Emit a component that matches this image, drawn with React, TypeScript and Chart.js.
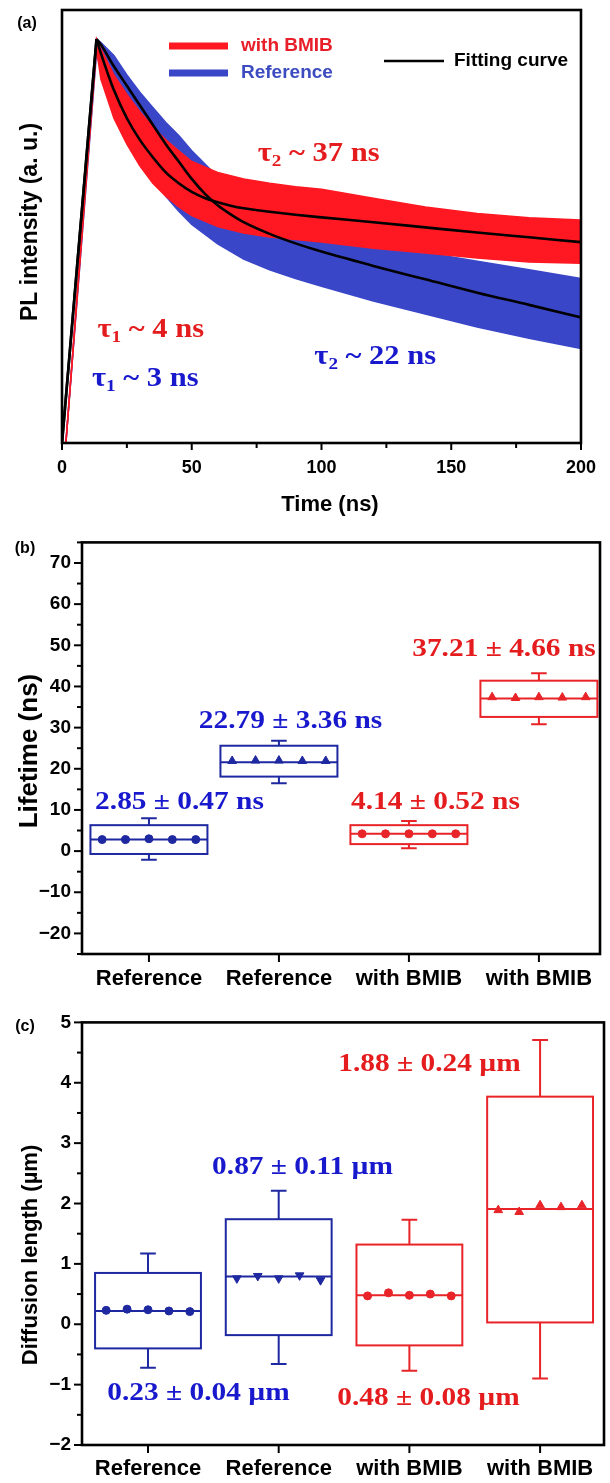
import React, { useEffect, useRef } from 'react';
import { Chart, registerables } from 'chart.js';

Chart.register(...registerables);
Chart.defaults.color = '#000';

const SANS = '"Liberation Sans", Arial, Helvetica, sans-serif';
const SERIF = '"Liberation Serif", "Times New Roman", serif';

// ---------------- Panel (a): PL decay (intensity in % of axis height) ----------------
const decayTimeNs = [0, 1.5, 13.3, 15, 20, 25, 30, 35, 40, 45, 50, 60, 70, 80, 90, 100, 120, 140, 160, 180, 200];
const bmibUpper = [0, 0, 93.3, 91, 85, 80.5, 76.5, 73, 70, 67.5, 65, 62.5, 61, 60, 59.2, 58.6, 56.5, 54.5, 53, 52, 51.5];
const bmibLower = [0, 0, 91, 84, 75, 69, 64, 60, 57, 54.5, 52.5, 50, 48.5, 47.6, 47, 46.4, 45, 43.9, 42.7, 41.8, 41.5];
const refUpper = [0, 0, 93.3, 92.5, 89.5, 85, 81, 77.5, 74, 71, 67.5, 61.5, 57, 53.5, 51, 49, 46, 44, 42, 40, 38];
const refLower = [0, 0, 90, 86, 79, 72, 66, 61, 57, 53.5, 50.5, 46, 42.5, 40, 38, 36.2, 32.8, 29.8, 26.8, 24.2, 21.8];
const fitTimeNs = [0, 13.3, 15, 20, 25, 30, 35, 40, 45, 50, 55, 60, 65, 70, 80, 90, 100, 120, 140, 160, 180, 200];
const bmibFit = [0, 93.3, 90, 81.5, 75, 70, 66, 62.5, 60, 58, 56.6, 55.6, 54.8, 54.2, 53.4, 52.7, 52.1, 51, 49.8, 48.6, 47.5, 46.4];
const refFit = [0, 93.3, 92, 87, 82.5, 78, 73.5, 69, 65, 61, 57.6, 54.9, 52.8, 51.0, 48.3, 46.1, 44.2, 40.9, 37.8, 34.7, 31.9, 29];
const timeTickValues = [0, 50, 100, 150, 200];
const legendNames = ['with BMIB', 'Reference', 'Fitting curve'];
const tauTexts = [
  ['τ', '2', ' ~ 37 ns'],
  ['τ', '1', ' ~ 4 ns'],
  ['τ', '1', ' ~ 3 ns'],
  ['τ', '2', ' ~ 22 ns'],
];

// ---------------- Panels (b) and (c): box charts ----------------
const categories = ['Reference', 'Reference', 'with BMIB', 'with BMIB'];

const lifetimeWhiskerTop = [8.0, 26.8, 7.3, 43.2];
const lifetimeBoxTop = [6.3, 25.6, 6.3, 41.4];
const lifetimeMedian = [2.8, 21.6, 4.2, 37.1];
const lifetimeBoxBottom = [-0.7, 18.1, 1.7, 32.6];
const lifetimeWhiskerBottom = [-2.1, 16.5, 0.7, 30.8];
const lifetimePoints = [
  [2.8, 2.8, 3.0, 2.8, 2.8],
  [21.9, 22.0, 22.0, 21.9, 21.9],
  [4.2, 4.2, 4.2, 4.2, 4.2],
  [37.4, 37.2, 37.4, 37.3, 37.4],
];
const lifetimeLabels = ['2.85 ± 0.47 ns', '22.79 ± 3.36 ns', '4.14 ± 0.52 ns', '37.21 ± 4.66 ns'];
const lifetimeTicks = [-20, -10, 0, 10, 20, 30, 40, 50, 60, 70];

const diffWhiskerTop = [1.17, 2.21, 1.73, 4.71];
const diffBoxTop = [0.85, 1.74, 1.32, 3.77];
const diffMedian = [0.22, 0.79, 0.48, 1.91];
const diffBoxBottom = [-0.4, -0.18, -0.35, 0.03];
const diffWhiskerBottom = [-0.72, -0.66, -0.77, -0.9];
const diffPoints = [
  [0.23, 0.25, 0.24, 0.22, 0.21],
  [0.76, 0.8, 0.76, 0.81, 0.73],
  [0.47, 0.52, 0.48, 0.5, 0.47],
  [1.89, 1.86, 1.97, 1.94, 1.97],
];
const diffLabels = ['0.23 ± 0.04 µm', '0.87 ± 0.11 µm', '0.48 ± 0.08 µm', '1.88 ± 0.24 µm'];
const diffTicks = [-2, -1, 0, 1, 2, 3, 4, 5];

// ---------------- styles ----------------
const RED_BAND = 'rgb(255, 24, 34)';
const BLUE_BAND = 'rgb(58, 70, 200)';
const BLUE_BOX = 'rgb(30, 40, 160)';
const RED_BOX = 'rgb(232, 36, 40)';
const BLUE_TXT = 'rgb(24, 24, 205)';
const RED_TXT = 'rgb(228, 28, 30)';
const TEXT_STRETCH = 1.13;

const toXY = (xs: number[], ys: number[]) => xs.map((x, i) => ({ x, y: ys[i] }));

function drawStretched(ctx: CanvasRenderingContext2D, parts: { t: string; sub?: boolean }[], cx: number, cy: number, size: number, color: string) {
  ctx.save();
  ctx.fillStyle = color;
  ctx.textBaseline = 'alphabetic';
  ctx.textAlign = 'left';
  const widths = parts.map((p) => {
    ctx.font = `bold ${p.sub ? Math.round(size * 0.62) : size}px ${SERIF}`;
    return ctx.measureText(p.t).width;
  });
  const total = widths.reduce((a, b) => a + b, 0);
  ctx.translate(cx, cy + size * 0.33);
  ctx.scale(TEXT_STRETCH, 1);
  let x = -total / 2;
  parts.forEach((p, i) => {
    ctx.font = `bold ${p.sub ? Math.round(size * 0.62) : size}px ${SERIF}`;
    ctx.fillText(p.t, x, p.sub ? size * 0.2 : 0);
    x += widths[i];
  });
  ctx.restore();
}

function drawText(ctx: CanvasRenderingContext2D, text: string, x: number, y: number, size: number, color = '#000', rotate = false, align: CanvasTextAlign = 'center') {
  ctx.save();
  ctx.font = `bold ${size}px ${SANS}`;
  ctx.fillStyle = color;
  ctx.textAlign = align;
  ctx.textBaseline = 'middle';
  ctx.translate(x, y);
  if (rotate) ctx.rotate(-Math.PI / 2);
  ctx.fillText(text, 0, 0);
  ctx.restore();
}

function drawFrame(chart: any) {
  const { ctx, chartArea: a } = chart;
  ctx.save();
  ctx.strokeStyle = '#000';
  ctx.lineWidth = 2.6;
  ctx.strokeRect(a.left, a.top, a.right - a.left, a.bottom - a.top);
  ctx.restore();
}

// ---------------- Panel (a) ----------------
function PanelA() {
  const ref = useRef<HTMLCanvasElement>(null);
  useEffect(() => {
    const plugin = {
      id: 'panelA',
      afterDraw(chart: any) {
        const { ctx, chartArea: a, scales } = chart;
        const xs = scales.x;
        const ys = scales.y;
        drawFrame(chart);
        ctx.save();
        ctx.strokeStyle = '#000';
        ctx.lineWidth = 2;
        for (let v = 0; v <= 200; v += 25) {
          const px = xs.getPixelForValue(v);
          const len = v % 50 === 0 ? 7 : 5;
          ctx.beginPath();
          ctx.moveTo(px, a.bottom);
          ctx.lineTo(px, a.bottom + len);
          ctx.stroke();
        }
        ctx.restore();

        // legend
        const legend = [
          { color: RED_BAND, x0: 169, x1: 228, y: 46, w: 7, tx: 241, text: legendNames[0], tc: 'rgb(232, 30, 40)' },
          { color: BLUE_BAND, x0: 169, x1: 228, y: 73, w: 7, tx: 241, text: legendNames[1], tc: 'rgb(60, 76, 192)' },
          { color: '#000', x0: 384, x1: 444, y: 61, w: 2.5, tx: 454, text: legendNames[2], tc: '#000' },
        ];
        legend.forEach((l) => {
          ctx.save();
          ctx.strokeStyle = l.color;
          ctx.lineWidth = l.w;
          ctx.beginPath();
          ctx.moveTo(l.x0, l.y);
          ctx.lineTo(l.x1, l.y);
          ctx.stroke();
          ctx.restore();
          drawText(ctx, l.text, l.tx, l.y, 19, l.tc, false, 'left');
        });

        // tau annotations
        const tauPos = [
          { t: 98.9, v: 67.2, c: RED_TXT },
          { t: 34.2, v: 26.6, c: RED_TXT },
          { t: 32.1, v: 15.2, c: BLUE_TXT },
          { t: 120.7, v: 20.3, c: BLUE_TXT },
        ];
        tauTexts.forEach((p, i) => {
          const pos = tauPos[i];
          drawStretched(
            ctx,
            [{ t: p[0] }, { t: p[1], sub: true }, { t: p[2] }],
            xs.getPixelForValue(pos.t),
            ys.getPixelForValue(pos.v),
            27,
            pos.c,
          );
        });

        drawText(ctx, 'Time (ns)', 330, 505, 22);
        drawText(ctx, 'PL intensity (a. u.)', 31, 222, 23, '#000', true);
        drawText(ctx, '(a)', 27, 24, 16);
      },
    };

    const band = (data: any[], color: string, fill: any, order: number) => ({
      data,
      borderColor: color,
      backgroundColor: color,
      borderWidth: 1.5,
      pointRadius: 0,
      tension: 0,
      fill,
      order,
    });
    const fitLine = (data: any[], smooth: boolean) => ({
      data,
      borderColor: '#000',
      borderWidth: 2.6,
      pointRadius: 0,
      fill: false,
      order: 0,
      tension: 0,
      cubicInterpolationMode: smooth ? 'monotone' : 'default',
    });
    const refFitXY = toXY(fitTimeNs, refFit);
    const bmibFitXY = toXY(fitTimeNs, bmibFit);

    const chart = new Chart(ref.current as HTMLCanvasElement, {
      type: 'line',
      data: {
        datasets: [
          fitLine(refFitXY.slice(0, 2), false),
          fitLine(refFitXY.slice(1), true),
          fitLine(bmibFitXY.slice(0, 2), false),
          fitLine(bmibFitXY.slice(1), true),
          band(toXY(decayTimeNs, bmibUpper), RED_BAND, '+1', 1),
          band(toXY(decayTimeNs, bmibLower), RED_BAND, false, 1),
          band(toXY(decayTimeNs, refUpper), BLUE_BAND, '+1', 2),
          band(toXY(decayTimeNs, refLower), BLUE_BAND, false, 2),
        ] as any,
      },
      options: {
        responsive: false,
        animation: false,
        devicePixelRatio: 1,
        layout: { padding: { left: 62, top: 10, right: 16, bottom: 0 } },
        plugins: { legend: { display: false }, tooltip: { enabled: false } },
        scales: {
          x: {
            type: 'linear',
            min: 0,
            max: 200,
            grid: { display: false, drawTicks: false },
            border: { display: false },
            afterBuildTicks: (s: any) => {
              s.ticks = timeTickValues.map((v) => ({ value: v }));
            },
            afterFit: (s: any) => {
              s.height = 520 - 443;
            },
            ticks: { font: { family: SANS, weight: 'bold', size: 18 }, color: '#000', padding: 14, maxRotation: 0, autoSkip: false },
          },
          y: { display: false, min: 0, max: 100 },
        },
      } as any,
      plugins: [plugin],
    });
    return () => chart.destroy();
  }, []);
  return <canvas ref={ref} width={610} height={520} style={{ position: 'absolute', left: 0, top: 0 }} />;
}

// ---------------- Box panels ----------------
type BoxPanelProps = {
  id: string;
  top: number;
  height: number;
  padTop: number;
  padRight: number;
  xAxisHeight: number;
  xMin: number;
  xMax: number;
  yMin: number;
  yMax: number;
  yStep: number;
  yTicks: number[];
  whiskerTop: number[];
  boxTop: number[];
  median: number[];
  boxBottom: number[];
  whiskerBottom: number[];
  points: number[][];
  pointStyles: { style: string; rotation: number; radius: number }[];
  offsets: number[];
  boxHalf: number;
  labels: string[];
  labelPos: { x: number; y: number }[];
  xLabelPad: number;
  yTitle: string;
  yTitlePos: { x: number; y: number; size: number };
  letter: string;
  letterPos: { x: number; y: number };
};

const boxColors = [BLUE_BOX, BLUE_BOX, RED_BOX, RED_BOX];
const labelColors = [BLUE_TXT, BLUE_TXT, RED_TXT, RED_TXT];

function BoxPanel(p: BoxPanelProps) {
  const ref = useRef<HTMLCanvasElement>(null);
  useEffect(() => {
    const plugin = {
      id: p.id,
      beforeDatasetsDraw(chart: any) {
        const { ctx, scales } = chart;
        const xs = scales.x;
        const ys = scales.y;
        ctx.save();
        ctx.lineWidth = 2;
        for (let i = 0; i < 4; i++) {
          const cx = xs.getPixelForValue(i + 1);
          const l = xs.getPixelForValue(i + 1 - p.boxHalf);
          const r = xs.getPixelForValue(i + 1 + p.boxHalf);
          const capL = xs.getPixelForValue(i + 1 - 0.06);
          const capR = xs.getPixelForValue(i + 1 + 0.06);
          const yt = ys.getPixelForValue(p.boxTop[i]);
          const yb = ys.getPixelForValue(p.boxBottom[i]);
          const ym = ys.getPixelForValue(p.median[i]);
          const wt = ys.getPixelForValue(p.whiskerTop[i]);
          const wb = ys.getPixelForValue(p.whiskerBottom[i]);
          ctx.strokeStyle = boxColors[i];
          ctx.strokeRect(l, yt, r - l, yb - yt);
          ctx.beginPath();
          ctx.moveTo(l, ym);
          ctx.lineTo(r, ym);
          ctx.moveTo(cx, yt);
          ctx.lineTo(cx, wt);
          ctx.moveTo(capL, wt);
          ctx.lineTo(capR, wt);
          ctx.moveTo(cx, yb);
          ctx.lineTo(cx, wb);
          ctx.moveTo(capL, wb);
          ctx.lineTo(capR, wb);
          ctx.stroke();
        }
        ctx.restore();
      },
      afterDraw(chart: any) {
        const { ctx, chartArea: a, scales } = chart;
        const xs = scales.x;
        const ys = scales.y;
        drawFrame(chart);
        ctx.save();
        ctx.strokeStyle = '#000';
        ctx.lineWidth = 2;
        for (let i = 0; i < 4; i++) {
          const px = xs.getPixelForValue(i + 1);
          ctx.beginPath();
          ctx.moveTo(px, a.bottom);
          ctx.lineTo(px, a.bottom + 8);
          ctx.stroke();
        }
        for (let v = p.yMin; v <= p.yMax + 1e-9; v += p.yStep / 2) {
          const py = ys.getPixelForValue(v);
          const major = p.yTicks.some((t) => Math.abs(t - v) < 1e-6);
          ctx.beginPath();
          ctx.moveTo(a.left, py);
          ctx.lineTo(a.left - (major ? 8 : 5), py);
          ctx.stroke();
        }
        ctx.restore();

        p.labels.forEach((t, i) => {
          const pos = p.labelPos[i];
          drawStretched(ctx, [{ t }], xs.getPixelForValue(pos.x), ys.getPixelForValue(pos.y), 26, labelColors[i]);
        });

        drawText(ctx, p.yTitle, p.yTitlePos.x, p.yTitlePos.y, p.yTitlePos.size, '#000', true);
        drawText(ctx, p.letter, p.letterPos.x, p.letterPos.y, 16);
      },
    };

    const datasets = p.points.map((vals, i) => ({
      data: vals.map((v, j) => ({ x: i + 1 + p.offsets[j], y: v })),
      pointStyle: p.pointStyles[i].style,
      rotation: p.pointStyles[i].rotation,
      pointRadius: p.pointStyles[i].radius,
      backgroundColor: boxColors[i],
      borderColor: boxColors[i],
      borderWidth: 1,
      showLine: false,
    }));

    const chart = new Chart(ref.current as HTMLCanvasElement, {
      type: 'scatter',
      data: { datasets: datasets as any },
      options: {
        responsive: false,
        animation: false,
        devicePixelRatio: 1,
        layout: { padding: { left: 0, top: p.padTop, right: p.padRight, bottom: 0 } },
        plugins: { legend: { display: false }, tooltip: { enabled: false } },
        scales: {
          x: {
            type: 'linear',
            min: p.xMin,
            max: p.xMax,
            grid: { display: false, drawTicks: false },
            border: { display: false },
            afterBuildTicks: (s: any) => {
              s.ticks = categories.map((_, i) => ({ value: i + 1 }));
            },
            afterFit: (s: any) => {
              s.height = p.xAxisHeight;
            },
            ticks: {
              font: { family: SANS, weight: 'bold', size: 22 },
              color: '#000',
              padding: p.xLabelPad,
              maxRotation: 0,
              autoSkip: false,
              callback: (v: any) => categories[Math.round(v) - 1] ?? '',
            },
          },
          y: {
            type: 'linear',
            min: p.yMin,
            max: p.yMax,
            grid: { display: false, drawTicks: false },
            border: { display: false },
            afterBuildTicks: (s: any) => {
              s.ticks = p.yTicks.map((v) => ({ value: v }));
            },
            afterFit: (s: any) => {
              s.width = 82;
            },
            ticks: {
              font: { family: SANS, weight: 'bold', size: 19 },
              color: '#000',
              padding: 11,
              callback: (v: any) => String(v).replace('-', '\u2212'),
            },
          },
        },
      } as any,
      plugins: [plugin],
    });
    return () => chart.destroy();
  }, []);
  return <canvas ref={ref} width={610} height={p.height} style={{ position: 'absolute', left: 0, top: p.top }} />;
}

const offsetsB = [-0.36, -0.18, 0, 0.18, 0.36];
const offsetsC = [-0.32, -0.16, 0, 0.16, 0.32];

export default function App() {
  return (
    <div style={{ position: 'absolute', left: 0, top: 0, width: 610, height: 1483, background: '#fff' }}>
      <PanelA />
      <BoxPanel
        id="panelB"
        top={520}
        height={480}
        padTop={9}
        padRight={10}
        xAxisHeight={46}
        xMin={0.485}
        xMax={4.47}
        yMin={-25}
        yMax={75}
        yStep={10}
        yTicks={lifetimeTicks}
        whiskerTop={lifetimeWhiskerTop}
        boxTop={lifetimeBoxTop}
        median={lifetimeMedian}
        boxBottom={lifetimeBoxBottom}
        whiskerBottom={lifetimeWhiskerBottom}
        points={lifetimePoints}
        pointStyles={[
          { style: 'circle', rotation: 0, radius: 4 },
          { style: 'triangle', rotation: 0, radius: 5 },
          { style: 'circle', rotation: 0, radius: 4 },
          { style: 'triangle', rotation: 0, radius: 5 },
        ]}
        offsets={offsetsB}
        boxHalf={0.45}
        labels={lifetimeLabels}
        labelPos={[
          { x: 1.235, y: 12.4 },
          { x: 2.089, y: 31.9 },
          { x: 3.204, y: 12.4 },
          { x: 3.731, y: 49.6 },
        ]}
        xLabelPad={12}
        yTitle="Lifetime (ns)"
        yTitlePos={{ x: 30, y: 231, size: 26 }}
        letter="(b)"
        letterPos={{ x: 25, y: 29 }}
      />
      <BoxPanel
        id="panelC"
        top={1000}
        height={483}
        padTop={20}
        padRight={6}
        xAxisHeight={38}
        xMin={0.495}
        xMax={4.489}
        yMin={-2}
        yMax={5}
        yStep={1}
        yTicks={diffTicks}
        whiskerTop={diffWhiskerTop}
        boxTop={diffBoxTop}
        median={diffMedian}
        boxBottom={diffBoxBottom}
        whiskerBottom={diffWhiskerBottom}
        points={diffPoints}
        pointStyles={[
          { style: 'circle', rotation: 0, radius: 4 },
          { style: 'triangle', rotation: 180, radius: 5 },
          { style: 'circle', rotation: 0, radius: 4 },
          { style: 'triangle', rotation: 0, radius: 5 },
        ]}
        offsets={offsetsC}
        boxHalf={0.405}
        labels={diffLabels}
        labelPos={[
          { x: 1.386, y: -1.11 },
          { x: 2.182, y: 2.63 },
          { x: 3.146, y: -1.19 },
          { x: 3.154, y: 4.34 },
        ]}
        xLabelPad={11}
        yTitle="Diffusion length (µm)"
        yTitlePos={{ x: 31, y: 255, size: 22 }}
        letter="(c)"
        letterPos={{ x: 25, y: 27 }}
      />
    </div>
  );
}
